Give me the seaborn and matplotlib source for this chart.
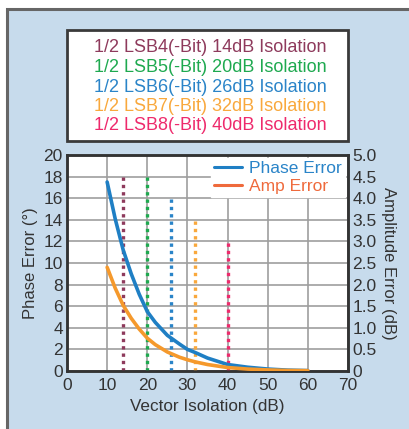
import pandas as pd
import matplotlib
matplotlib.use("Agg")
import matplotlib.pyplot as plt
import seaborn as sns
from matplotlib.lines import Line2D
from matplotlib.patches import Rectangle

# Curve data
isolation = [10, 12, 14, 16, 18, 20, 22, 25, 28, 30, 32, 35, 40, 45, 50, 55, 60]
phase_err = [17.5, 14.1, 11.2, 9.0, 7.1, 5.5, 4.5, 3.3, 2.5, 2.0, 1.7, 1.2, 0.6, 0.35, 0.18, 0.08, 0.04]
amp_err = [2.4, 1.92, 1.52, 1.22, 0.97, 0.76, 0.61, 0.44, 0.32, 0.26, 0.21, 0.15, 0.08, 0.045, 0.025, 0.012, 0.008]

# LSB markers
lsb_labels = ["1/2 LSB4(-Bit) 14dB Isolation", "1/2 LSB5(-Bit) 20dB Isolation",
              "1/2 LSB6(-Bit) 26dB Isolation", "1/2 LSB7(-Bit) 32dB Isolation",
              "1/2 LSB8(-Bit) 40dB Isolation"]
lsb_iso = [14, 20, 26, 32, 40]
lsb_top = [18, 18, 16, 14, 12]
lsb_colors = ["#8e3a5c", "#1ea94f", "#2a84c8", "#f9a83c", "#ee2a6c"]

x_ticks = list(range(0, 71, 10))
left_ticks = list(range(0, 21, 2))
right_ticks = [0, 0.5, 1.0, 1.5, 2.0, 2.5, 3.0, 3.5, 4.0, 4.5, 5.0]
right_labels = ["0", "0.5", "1.0", "1.5", "2.0", "2.5", "3.0", "3.5", "4.0", "4.5", "5.0"]

df = pd.DataFrame({"iso": isolation, "phase": phase_err, "amp": amp_err})

sns.set_style("white")
plt.rcParams["font.family"] = ["Liberation Sans", "DejaVu Sans"]

fig = plt.figure(figsize=(4.1, 4.29), dpi=100)
fig.patch.set_facecolor("white")

# blue panel behind everything
W, H = 410, 429
fig.patches.append(Rectangle((7 / W, -0.01), 1.0, (H - 9) / H + 0.01, transform=fig.transFigure,
                             facecolor="#c7dbec", edgecolor="#666666", linewidth=2.2, zorder=-2))

# box with the LSB notes
fig.patches.append(Rectangle((67 / W, 1 - 141 / H), 281 / W, 111 / H, transform=fig.transFigure,
                             facecolor="white", edgecolor="#3a3a3a", linewidth=2.0, zorder=-1))
for i, (lab, col) in enumerate(zip(lsb_labels, lsb_colors)):
    fig.text(210 / W, 1 - (48 + 19.5 * i) / H, lab, color=col, fontsize=13,
             ha="center", va="center")

ax = fig.add_axes([67 / W, 1 - 371 / H, 281 / W, 216 / H])
ax.set_facecolor("white")

for x, top, col in zip(lsb_iso, lsb_top, lsb_colors):
    ax.vlines(x, 0, top, colors=col, linestyles=(0, (1, 1.2)), linewidth=2.4, zorder=3)

sns.lineplot(data=df, x="iso", y="phase", ax=ax, color="#1f7fc4", linewidth=2.6, zorder=4)

ax.set_xlim(0, 70)
ax.set_ylim(0, 20)
ax.set_xticks(x_ticks)
ax.set_yticks(left_ticks)
ax.grid(True, color="#9e9e9e", linewidth=1.2)
ax.set_axisbelow(True)
ax.tick_params(length=0, labelsize=12.5, colors="#333333", pad=3)
ax.tick_params(axis="x", pad=5)
ax.set_xlabel("Vector Isolation (dB)", fontsize=12.3, color="#333333", labelpad=4)
ax.set_ylabel("Phase Error (°)", fontsize=12, color="#333333", labelpad=4)
for s in ax.spines.values():
    s.set_color("#333333")
    s.set_linewidth(1.8)

ax2 = ax.twinx()
sns.lineplot(data=df, x="iso", y="amp", ax=ax2, color="#f5992c", linewidth=2.6, zorder=4)
ax2.set_ylim(0, 5)
ax2.set_yticks(right_ticks)
ax2.set_yticklabels(right_labels)
ax2.tick_params(length=0, labelsize=12.5, colors="#333333", pad=3)
ax2.set_ylabel("Amplitude Error (dB)", fontsize=12, color="#333333", rotation=270, labelpad=14)
ax2.grid(False)
for s in ax2.spines.values():
    s.set_color("#333333")
    s.set_linewidth(1.8)

handles = [Line2D([], [], color="#1f7fc4", linewidth=2.2),
           Line2D([], [], color="#ef6a3c", linewidth=2.2)]
leg = ax2.legend(handles, ["Phase Error", "Amp Error"], loc="upper right",
                 fontsize=12.5, frameon=True, framealpha=1, facecolor="white", edgecolor="white",
                 handlelength=1.6, handletextpad=0.4, borderpad=0.2, labelspacing=0.15,
                 borderaxespad=0.15, fancybox=False)
for t, c in zip(leg.get_texts(), ["#2a84c8", "#ef6a3c"]):
    t.set_color(c)

fig.savefig("out.png", dpi=100)
